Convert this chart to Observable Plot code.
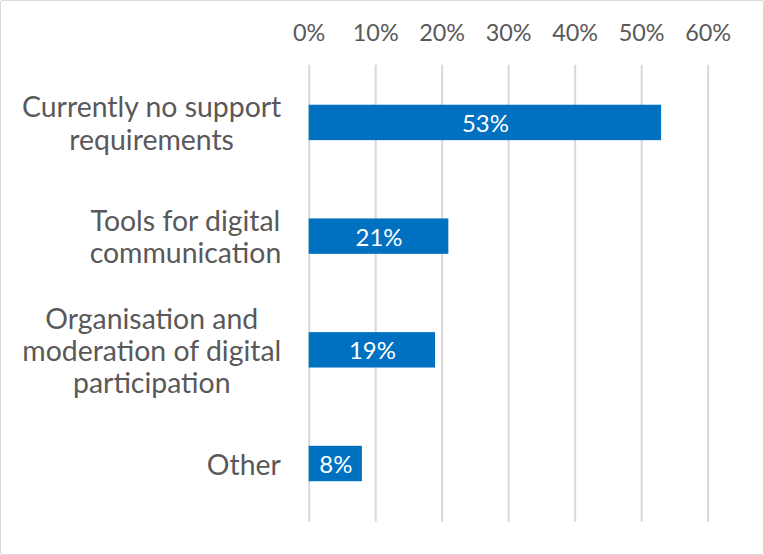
<!DOCTYPE html>
<html>
<head>
<meta charset="utf-8">
<script src="https://cdn.jsdelivr.net/npm/d3@7"></script>
<script src="https://cdn.jsdelivr.net/npm/@observablehq/plot@0.6"></script>
<style>
  html, body { margin: 0; padding: 0; background: #fff; }
  #frame { width: 764px; height: 555px; box-sizing: border-box; border: 1.5px solid #d9d9d9; border-radius: 2px; position: relative; overflow: hidden; }
  #frame svg { position: absolute; left: -1.5px; top: -1.5px; }
</style>
</head>
<body>
<div id="frame"></div>
<script>
const categories = [
  "Currently no support\nrequirements",
  "Tools for digital\ncommunication",
  "Organisation and\nmoderation of digital\nparticipation",
  "Other"
];
const values = [0.53, 0.21, 0.19, 0.08];
const valueLabels = ["53%", "21%", "19%", "8%"];
const xTicks = [0, 0.1, 0.2, 0.3, 0.4, 0.5, 0.6];

const data = categories.map((c, i) => ({category: c, value: values[i], label: valueLabels[i]}));

const font = "Lato, 'Open Sans', sans-serif";
const chart = Plot.plot({
  width: 764,
  height: 555,
  marginLeft: 309.5,
  marginRight: 54.5,
  marginTop: 65,
  marginBottom: 32,
  style: {fontFamily: font, color: "#595959", background: "transparent"},
  x: {domain: [0, 0.6], ticks: xTicks, label: null, tickFormat: d => Math.round(d * 100) + "%"},
  y: {domain: categories, padding: 0, label: null},
  marks: [
    Plot.ruleX(xTicks, {stroke: "#d9d9d9", strokeWidth: 2}),
    Plot.barX(data, {x: "value", y: "category", fill: "#0070C0", insetTop: 39, insetBottom: 39.5}),
    Plot.text(data, {x: d => d.value / 2, y: "category", text: "label", fill: "white", fontSize: 24, dy: 1}),
    Plot.axisX({anchor: "top", ticks: xTicks, label: null, tickSize: 0, tickPadding: 0, lineAnchor: "middle", dy: -31.5, fontSize: 23.5, fill: "#595959", tickFormat: d => Math.round(d * 100) + "%"}),
    Plot.axisY({anchor: "left", label: null, tickSize: 0, tickPadding: 28, fontSize: 28.5, lineHeight: 1.13, fill: "#595959", textOverflow: null, lineWidth: 100})
  ]
});
document.getElementById("frame").appendChild(chart);

// Centre each label's lines within its own block, block right-aligned (as in the original)
const yLabels = chart.querySelectorAll('g[aria-label="y-axis tick label"] text');
yLabels.forEach(t => {
  const w = t.getBBox().width;
  t.setAttribute("text-anchor", "middle");
  const tr = t.getAttribute("transform") || "";
  t.setAttribute("transform", tr + ` translate(${-w / 2},0)`);
});
</script>
</body>
</html>
